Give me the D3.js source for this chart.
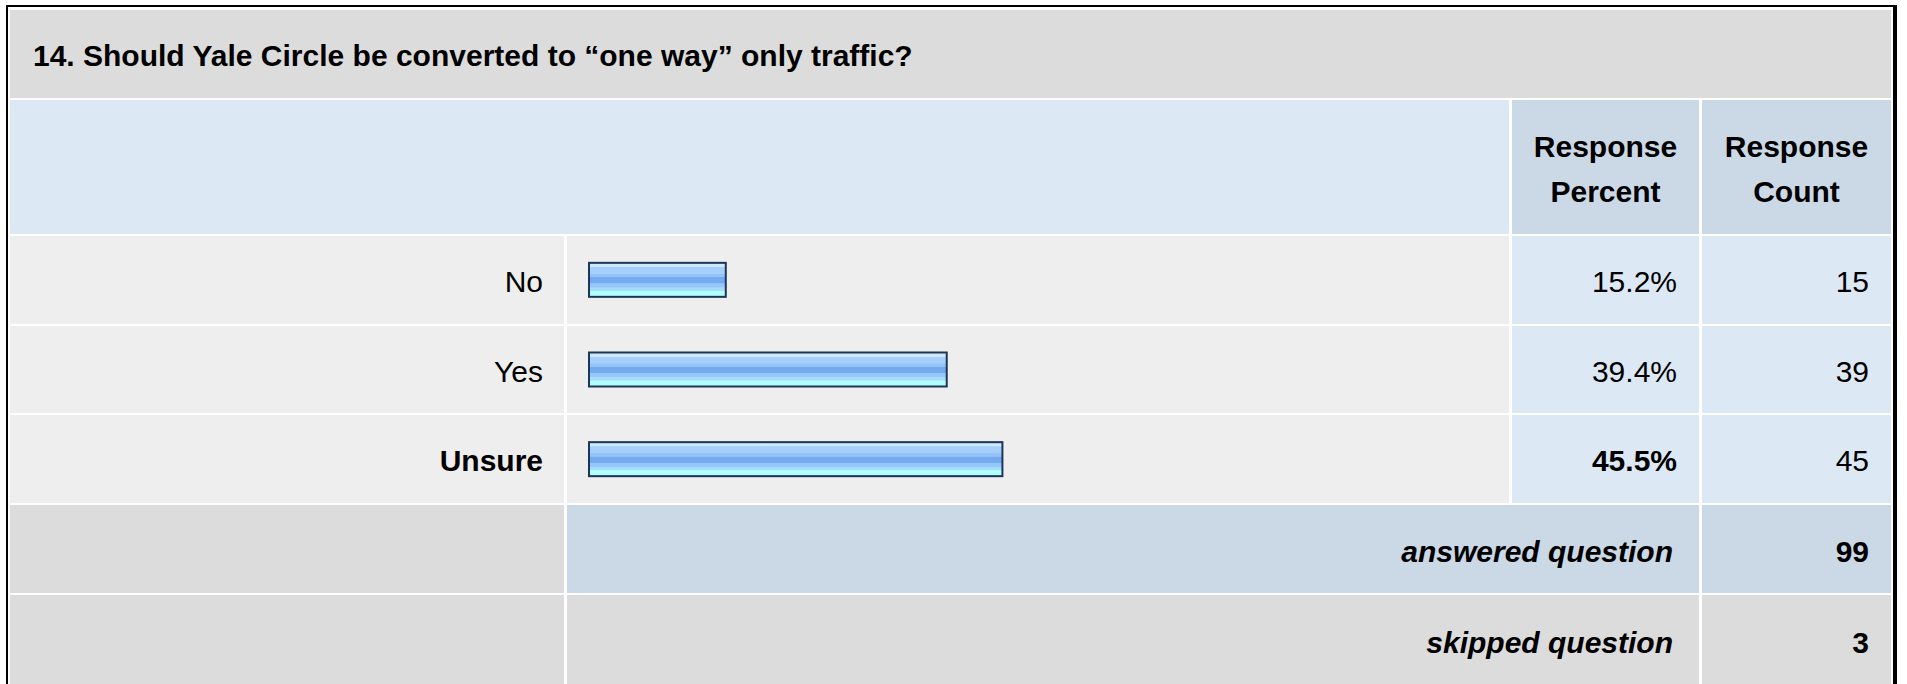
<!DOCTYPE html>
<html>
<head>
<meta charset="utf-8">
<script src="https://cdn.jsdelivr.net/npm/d3@7"></script>
<style>
  html, body { margin: 0; padding: 0; background: #fff; }
  svg { display: block; font-family: "Liberation Sans", Arial, sans-serif; }
</style>
</head>
<body>
<div id="chart"></div>
<script>
// dados da pergunta
const questionTitle = "14. Should Yale Circle be converted to \u201cone way\u201d only traffic?";
const answerLabels = ["No", "Yes", "Unsure"];
const responsePercent = [15.2, 39.4, 45.5];
const responseCount = [15, 39, 45];
const headerLabels = [["Response", "Percent"], ["Response", "Count"]];
const summaryLabels = ["answered question", "skipped question"];
const summaryCounts = [99, 3];

const W = 1907, H = 684;
const fontSize = 30;

// colunas da tabela
const col = {
  label: [10, 564],
  bar: [567, 1509],
  pct: [1512, 1699],
  count: [1702, 1891]
};

const svg = d3.select("#chart").append("svg")
  .attr("width", W)
  .attr("height", H);

// gradiente das barras
const grad = svg.append("defs").append("linearGradient")
  .attr("id", "barGrad")
  .attr("x1", 0).attr("y1", 0).attr("x2", 0).attr("y2", 1);
[
  [0, "#cde8ff"], [0.12, "#cde8ff"], [0.13, "#a6d0fb"], [0.32, "#a6d0fb"],
  [0.33, "#93c3f8"], [0.42, "#93c3f8"], [0.43, "#74aaef"], [0.6, "#74aaef"],
  [0.61, "#95c7f8"], [0.72, "#95c7f8"], [0.73, "#a8dcfc"], [0.82, "#a8dcfc"],
  [0.83, "#aeffff"], [1, "#aeffff"]
].forEach(s => grad.append("stop").attr("offset", s[0]).attr("stop-color", s[1]));

function cell(x0, x1, y0, y1, fill) {
  svg.append("rect")
    .attr("x", x0).attr("y", y0)
    .attr("width", x1 - x0).attr("height", y1 - y0)
    .attr("fill", fill)
    .attr("shape-rendering", "crispEdges");
}

function label(txt, x, y, anchor, opts = {}) {
  svg.append("text")
    .attr("x", x).attr("y", y)
    .attr("text-anchor", anchor)
    .attr("font-size", fontSize)
    .attr("font-weight", opts.bold ? "bold" : "normal")
    .attr("font-style", opts.italic ? "italic" : "normal")
    .attr("fill", "#000")
    .text(txt);
}

// titulo
cell(10, 1891, 10, 98, "#dcdcdc");
label(questionTitle, 33, 66, "start", { bold: true });

// cabecalho
cell(10, 1509, 100, 234, "#dde8f5");
cell(col.pct[0], col.pct[1], 100, 234, "#cbd8e6");
cell(col.count[0], col.count[1], 100, 234, "#cbd8e6");
[col.pct, col.count].forEach((c, i) => {
  const cx = (c[0] + c[1]) / 2;
  label(headerLabels[i][0], cx, 157, "middle", { bold: true });
  label(headerLabels[i][1], cx, 202, "middle", { bold: true });
});

// linhas de respostas
const y = d3.scaleBand()
  .domain(answerLabels)
  .range([236, 505]);

const x = d3.scaleLinear()
  .domain([0, 100])
  .range([588, 1501]);

const maxPct = d3.max(responsePercent);

answerLabels.forEach((name, i) => {
  const top = y(name), bottom = top + y.bandwidth() - 2;
  const mid = (top + bottom) / 2;
  const isMax = responsePercent[i] === maxPct;

  cell(col.label[0], col.label[1], top, bottom, "#eeeeee");
  cell(col.bar[0], col.bar[1], top, bottom, "#eeeeee");
  cell(col.pct[0], col.pct[1], top, bottom, "#dde8f5");
  cell(col.count[0], col.count[1], top, bottom, "#dde8f5");

  label(name, col.label[1] - 21, mid + 12, "end", { bold: isMax });
  label(responsePercent[i].toFixed(1) + "%", col.pct[1] - 22, mid + 12, "end", { bold: isMax });
  label(responseCount[i], col.count[1] - 22, mid + 12, "end");
});

// barras
svg.append("g")
  .selectAll("rect")
  .data(responsePercent)
  .join("rect")
  .attr("x", x(0) + 1)
  .attr("y", (d, i) => y(answerLabels[i]) + (y.bandwidth() - 2) / 2 - 17)
  .attr("width", d => x(d) - x(0) - 2)
  .attr("height", 34)
  .attr("fill", "url(#barGrad)")
  .attr("stroke", "#1d3557")
  .attr("stroke-width", 2);

// resumo
const summaryRows = [[505, 593, "#cbd8e6"], [595, 684, "#dcdcdc"]];
summaryRows.forEach((r, i) => {
  const mid = (r[0] + r[1]) / 2;
  cell(col.label[0], col.label[1], r[0], r[1], "#dcdcdc");
  cell(col.bar[0], col.pct[1], r[0], r[1], r[2]);
  cell(col.count[0], col.count[1], r[0], r[1], r[2]);
  label(summaryLabels[i], col.pct[1] - 26, mid + 13, "end", { bold: true, italic: true });
  label(summaryCounts[i], col.count[1] - 22, mid + 13, "end", { bold: true });
});

// borda externa
svg.append("rect").attr("x", 6).attr("y", 5).attr("width", 1891).attr("height", 2).attr("fill", "#000");
svg.append("rect").attr("x", 6).attr("y", 5).attr("width", 2).attr("height", H).attr("fill", "#000");
svg.append("rect").attr("x", 1893).attr("y", 5).attr("width", 4).attr("height", H).attr("fill", "#000");
</script>
</body>
</html>
